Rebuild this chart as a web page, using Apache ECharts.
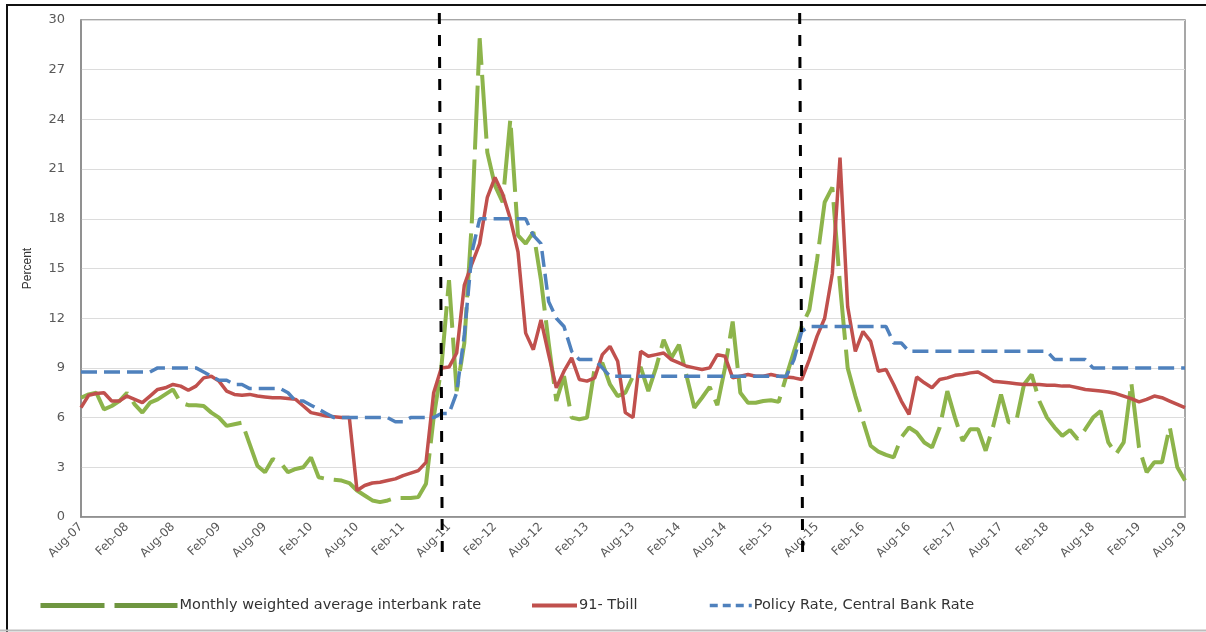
<!DOCTYPE html>
<html>
<head>
<meta charset="utf-8">
<script src="https://cdn.jsdelivr.net/npm/echarts@6/dist/echarts.min.js"></script>
<style>
html,body{margin:0;padding:0;background:#fff;}
#chart{width:1206px;height:632px;}
</style>
</head>
<body>
<div id="chart"></div>
<script>
// ---- data ----
const monthNames = ['Jan','Feb','Mar','Apr','May','Jun','Jul','Aug','Sep','Oct','Nov','Dec'];
const startYear = 2007, startMonth = 7; // Aug-07
const monthCount = 145;                 // Aug-07 .. Aug-19
const categories = [];
for (let i = 0; i < monthCount; i++) {
  const m = (startMonth + i) % 12;
  const y = startYear + Math.floor((startMonth + i) / 12);
  categories.push(monthNames[m] + '-' + String(y % 100).padStart(2, '0'));
}

const interbank = [
  7.2, 7.4, 7.5, 6.5, 6.7, 7.0, 7.5, 6.8, 6.3, 6.9,
  7.1, 7.4, 7.7, 6.9, 6.75, 6.75, 6.7, 6.3, 6.0, 5.5,
  5.6, 5.7, 4.4, 3.1, 2.7, 3.5, 3.3, 2.7, 2.9, 3.0,
  3.6, 2.4, 2.3, 2.25, 2.2, 2.05, 1.6, 1.3, 1.0, 0.9,
  1.0, 1.15, 1.15, 1.15, 1.2, 2.0, 6.0, 9.0, 14.3, 7.6,
  10.5, 18.0, 28.9, 22.0, 20.0, 19.0, 24.0, 17.0, 16.5, 17.2,
  14.3, 10.5, 7.0, 8.5, 6.0, 5.9, 6.0, 9.0, 9.3, 8.0,
  7.3, 7.5, 8.5, 9.05, 7.6, 9.0, 10.7, 9.6, 10.4, 8.5,
  6.6, 7.2, 7.85, 6.75, 9.0, 11.8, 7.5, 6.9, 6.9, 7.0,
  7.05, 6.95, 8.5, 10.0, 11.5, 12.5, 15.5, 19.0, 19.9, 14.0,
  9.0, 7.3, 5.8, 4.3, 3.95, 3.75, 3.6, 4.8, 5.4, 5.1,
  4.5, 4.2, 5.4, 7.6, 6.0, 4.6, 5.3, 5.3, 4.0, 5.5,
  7.4, 5.7, 5.8, 8.0, 8.6, 7.0, 6.0, 5.4, 4.9, 5.25,
  4.7, 5.3, 6.0, 6.4, 4.5, 3.8, 4.5, 8.1, 4.2, 2.7,
  3.3, 3.3, 5.45, 3.0, 2.2
];

const tbill = [
  6.6, 7.35, 7.45, 7.5, 7.0, 7.0, 7.3, 7.1, 6.9, 7.3,
  7.7, 7.8, 8.0, 7.9, 7.65, 7.9, 8.4, 8.5, 8.2, 7.6,
  7.4, 7.35, 7.4, 7.3, 7.25, 7.2, 7.2, 7.15, 7.1, 6.7,
  6.3, 6.2, 6.1, 6.05, 6.0, 6.0, 1.6, 1.9, 2.05, 2.1,
  2.2, 2.3, 2.5, 2.65, 2.8, 3.3, 7.5, 9.0, 9.05, 9.9,
  14.0, 15.3, 16.5, 19.3, 20.5, 19.5, 18.0, 16.0, 11.1, 10.1,
  11.9, 9.8, 7.8, 8.8, 9.6, 8.3, 8.2, 8.4, 9.8, 10.3,
  9.4, 6.3, 6.0, 10.0, 9.7, 9.8, 9.9, 9.5, 9.3, 9.1,
  9.0, 8.9, 9.0, 9.8, 9.7, 8.4, 8.5, 8.6, 8.5, 8.5,
  8.6, 8.5, 8.45, 8.4, 8.3, 9.5, 10.9, 12.0, 14.7, 21.7,
  12.7, 10.0, 11.2, 10.6, 8.8, 8.9, 8.0, 7.0, 6.2, 8.45,
  8.1, 7.8, 8.3, 8.4, 8.55, 8.6, 8.7, 8.75, 8.5, 8.2,
  8.15, 8.1, 8.05, 8.0, 8.0, 8.0, 7.95, 7.95, 7.9, 7.9,
  7.8, 7.7, 7.65, 7.6, 7.55, 7.45, 7.3, 7.15, 6.95, 7.1,
  7.3, 7.2, 7.0, 6.8, 6.6
];

const policyRate = [
  8.75, 8.75, 8.75, 8.75, 8.75, 8.75, 8.75, 8.75, 8.75, 8.75,
  9.0, 9.0, 9.0, 9.0, 9.0, 9.0, 8.75, 8.5, 8.25, 8.25,
  8.0, 8.0, 7.75, 7.75, 7.75, 7.75, 7.75, 7.5, 7.0, 7.0,
  6.75, 6.5, 6.25, 6.0, 6.0, 6.0, 6.0, 6.0, 6.0, 6.0,
  6.0, 5.75, 5.75, 6.0, 6.0, 6.0, 6.0, 6.25, 6.25, 7.5,
  11.0, 16.0, 18.0, 18.0, 18.0, 18.0, 18.0, 18.0, 18.0, 17.0,
  16.5, 13.0, 12.0, 11.5, 10.0, 9.5, 9.5, 9.5, 9.0, 8.5,
  8.5, 8.5, 8.5, 8.5, 8.5, 8.5, 8.5, 8.5, 8.5, 8.5,
  8.5, 8.5, 8.5, 8.5, 8.5, 8.5, 8.5, 8.5, 8.5, 8.5,
  8.5, 8.5, 8.5, 9.5, 11.2, 11.5, 11.5, 11.5, 11.5, 11.5,
  11.5, 11.5, 11.5, 11.5, 11.5, 11.5, 10.5, 10.5, 10.0, 10.0,
  10.0, 10.0, 10.0, 10.0, 10.0, 10.0, 10.0, 10.0, 10.0, 10.0,
  10.0, 10.0, 10.0, 10.0, 10.0, 10.0, 10.0, 9.5, 9.5, 9.5,
  9.5, 9.5, 9.0, 9.0, 9.0, 9.0, 9.0, 9.0, 9.0, 9.0,
  9.0, 9.0, 9.0, 9.0, 9.0
];

const seriesNames = ['Monthly weighted average interbank rate', '91- Tbill', 'Policy Rate, Central Bank Rate'];
const eventMonths = ['Jul-11', 'Jun-15'];
const yTicks = {min: 0, max: 30, step: 3};

// ---- chart ----
const chart = echarts.init(document.getElementById('chart'), null, {renderer: 'canvas'});
const FONT = 'DejaVu Sans';
const legendText = {fontFamily: FONT, fontSize: 14.5, color: '#333', padding: [0, 0, 0, -3]};
const noSymbol = {opacity: 0, borderWidth: 0};

const option = {
  backgroundColor: '#fff',
  animation: false,
  grid: {left: 81, right: 21, top: 20, bottom: 115, show: true, borderColor: '#8a8a8a', borderWidth: 1.5, backgroundColor: 'transparent'},
  legend: [
    {data: [seriesNames[0]], left: 38, top: 598, padding: 0, itemWidth: 137, itemHeight: 16, textStyle: legendText, itemStyle: noSymbol, lineStyle: {width: 5, color: '#6f9640'}},
    {data: [seriesNames[1]], left: 530, top: 598, padding: 0, itemWidth: 45, itemHeight: 16, textStyle: legendText, itemStyle: noSymbol, lineStyle: {width: 4}},
    {data: [seriesNames[2]], left: 708, top: 598, padding: 0, itemWidth: 42, itemHeight: 16, textStyle: legendText, itemStyle: noSymbol, lineStyle: {width: 3.5, type: [8, 5]}}
  ],
  xAxis: {
    type: 'category',
    data: categories,
    boundaryGap: false,
    axisLine: {show: true, lineStyle: {color: '#8a8a8a', width: 1.5}},
    axisTick: {show: false},
    axisLabel: {interval: 5, rotate: 45, fontFamily: FONT, fontSize: 12, color: '#595959', margin: 8},
    splitLine: {show: false}
  },
  yAxis: {
    type: 'value',
    min: yTicks.min, max: yTicks.max, interval: yTicks.step,
    name: 'Percent',
    nameLocation: 'middle',
    nameGap: 47,
    nameTextStyle: {fontFamily: 'Liberation Sans Narrow, Liberation Sans', fontSize: 12, color: '#333'},
    axisLine: {show: true, lineStyle: {color: '#8a8a8a', width: 1.5}},
    axisTick: {show: false},
    axisLabel: {fontFamily: FONT, fontSize: 13, color: '#595959', margin: 16},
    splitLine: {show: true, lineStyle: {color: '#dcdcdc', width: 1}}
  },
  series: [
    {name: seriesNames[0], type: 'line', data: interbank, symbol: 'none', showSymbol: false,
     lineStyle: {color: '#8db44b', width: 4, type: [64, 10]}, itemStyle: {color: '#8db44b'}, z: 2},
    {name: seriesNames[1], type: 'line', data: tbill, symbol: 'none', showSymbol: false,
     lineStyle: {color: '#c0504d', width: 3.5}, itemStyle: {color: '#c0504d'}, z: 3},
    {name: seriesNames[2], type: 'line', data: policyRate, symbol: 'none', showSymbol: false,
     lineStyle: {color: '#4f81bd', width: 3.5, type: [16, 7]}, itemStyle: {color: '#4f81bd'}, z: 4}
  ]
};
chart.setOption(option);

// vertical event lines & outer frame, positioned through the axis scale
const graphics = [
  {type: 'polyline', shape: {points: [[7, 1000], [7, 5], [1300, 5]]}, style: {stroke: '#111', lineWidth: 2, fill: null}, z: 100},
  {type: 'line', shape: {x1: 0, y1: 630.5, x2: 1206, y2: 630.5}, style: {stroke: '#bdbdbd', lineWidth: 2}, z: 100}
];
eventMonths.forEach(function (m) {
  const x = chart.convertToPixel({xAxisIndex: 0}, m);
  graphics.push({type: 'line', shape: {x1: x - 2, y1: 13, x2: x + 1, y2: 563},
    style: {stroke: '#000', lineWidth: 3, lineDash: [11, 11]}, z: 50});
});
chart.setOption({graphic: graphics});
</script>
</body>
</html>
